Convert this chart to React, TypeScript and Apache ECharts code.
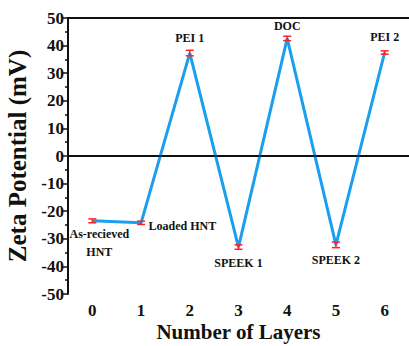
import React, { useEffect, useRef } from "react";
import * as echarts from "echarts";

const layers = ["0", "1", "2", "3", "4", "5", "6"];
const zeta = [-23.5, -24.2, 37.3, -33.0, 42.6, -32.2, 37.5];
const errs = [0.7, 0.6, 1.0, 0.8, 0.8, 1.0, 0.6];
const names = ["As-recieved\nHNT", "Loaded HNT", "PEI 1", "SPEEK 1", "DOC", "SPEEK 2", "PEI 2"];
const yTicks = { min: -50, max: 50, interval: 10 };

const FONT = "'Liberation Serif', 'Times New Roman', serif";

const labelCfg: any[] = [
  { position: "bottom", distance: 4, offset: [7, 0], lineHeight: 18 },
  { position: "right", distance: 7, offset: [0, 3] },
  { position: "top", distance: 9 },
  { position: "bottom", distance: 9 },
  { position: "top", distance: 6 },
  { position: "bottom", distance: 9 },
  { position: "top", distance: 9 },
];

export default function App() {
  const ref = useRef<HTMLDivElement>(null);
  useEffect(() => {
    if (!ref.current) return;
    const chart = echarts.init(ref.current, undefined, { renderer: "svg" });
    const lineData = zeta.map((v, i) => ({
      value: v,
      label: {
        show: true,
        formatter: names[i],
        fontFamily: FONT,
        fontWeight: "bold",
        fontSize: 12,
        color: "#111",
        ...labelCfg[i],
      },
    }));
    chart.setOption({
      animation: false,
      backgroundColor: "#fff",
      grid: { left: 68, right: 0, top: 18, bottom: 52, outerBoundsMode: "none", containLabel: false },
      xAxis: [
        {
          type: "category",
          data: layers,
          boundaryGap: true,
          name: "Number of Layers",
          nameLocation: "middle",
          nameGap: 27,
          nameMoveOverlap: false,
          nameTextStyle: { fontFamily: FONT, fontWeight: "bold", fontSize: 21, color: "#111" },
          axisLine: { lineStyle: { color: "#111", width: 2 } },
          axisTick: { alignWithLabel: true, length: 5, lineStyle: { color: "#111", width: 1.5 } },
          axisLabel: { fontFamily: FONT, fontWeight: "bold", fontSize: 17, color: "#111", margin: 8 },
          splitLine: { show: false },
        },
        {
          type: "category",
          data: layers,
          position: "top",
          boundaryGap: true,
          axisLine: { lineStyle: { color: "#111", width: 2 } },
          axisTick: { show: false },
          axisLabel: { show: false },
        },
      ],
      yAxis: {
        type: "value",
        min: yTicks.min,
        max: yTicks.max,
        interval: yTicks.interval,
        name: "Zeta Potential (mV)",
        nameLocation: "middle",
        nameGap: 36,
        nameTextStyle: { fontFamily: FONT, fontWeight: "bold", fontSize: 25, color: "#111" },
        axisLine: { show: true, lineStyle: { color: "#111", width: 2 } },
        axisTick: { show: true, length: 5, lineStyle: { color: "#111", width: 1.5 } },
        minorTick: { show: true, splitNumber: 2, length: 3, lineStyle: { color: "#111", width: 1.5 } },
        axisLabel: { fontFamily: FONT, fontWeight: "bold", fontSize: 17, color: "#111", margin: 4 },
        splitLine: { show: false },
      },
      series: [
        {
          type: "line",
          data: lineData,
          symbol: "circle",
          symbolSize: 1,
          showSymbol: true,
          itemStyle: { color: "#1a9ff0" },
          lineStyle: { color: "#1a9ff0", width: 3 },
          markLine: {
            silent: true,
            symbol: "none",
            label: { show: false },
            lineStyle: { color: "#111", type: "solid", width: 1.5 },
            data: [{ yAxis: 0 }],
          },
          z: 2,
        },
        {
          type: "custom",
          data: zeta.map((v, i) => [i, v, errs[i]]),
          z: 3,
          renderItem: (params: any, api: any) => {
            const x = api.value(0);
            const v = api.value(1);
            const e = api.value(2);
            const hi = api.coord([x, v + e]);
            const lo = api.coord([x, v - e]);
            const w = 4;
            const style = { stroke: "#ff2020", lineWidth: 1.5 };
            return {
              type: "group",
              children: [
                { type: "line", shape: { x1: hi[0], y1: hi[1], x2: lo[0], y2: lo[1] }, style },
                { type: "line", shape: { x1: hi[0] - w, y1: hi[1], x2: hi[0] + w, y2: hi[1] }, style },
                { type: "line", shape: { x1: lo[0] - w, y1: lo[1], x2: lo[0] + w, y2: lo[1] }, style },
              ],
            };
          },
        },
      ],
    });
    return () => chart.dispose();
  }, []);
  return <div ref={ref} style={{ width: 409, height: 346, position: "absolute", left: 0, top: 0 }} />;
}
